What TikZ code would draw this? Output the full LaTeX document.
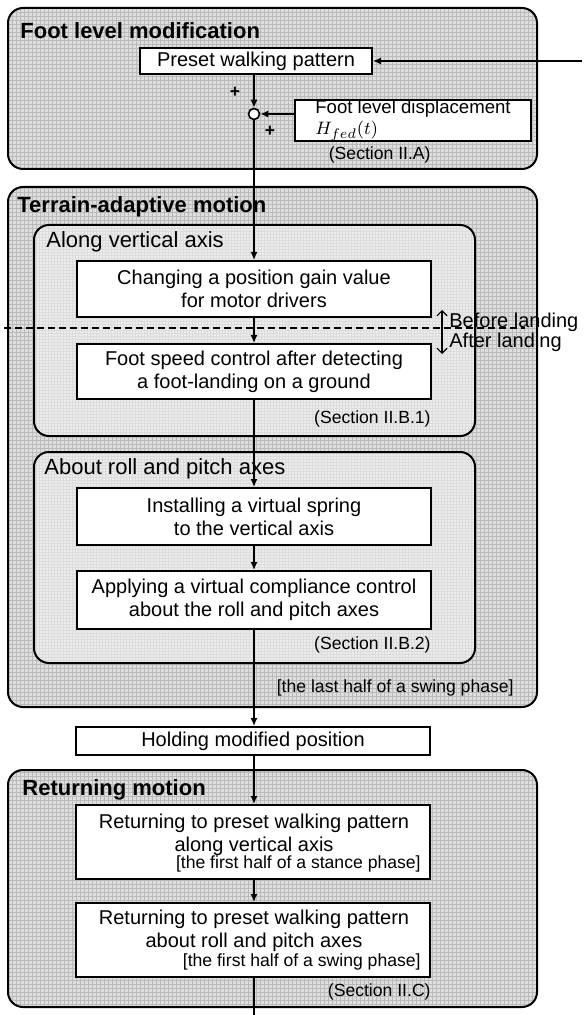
\documentclass[tikz,border=0pt]{standalone}
\usepackage{fontspec}
\setmainfont{Liberation Sans}
\usetikzlibrary{arrows.meta}

\definecolor{outerfill}{RGB}{222,222,222}
\definecolor{outergrid}{RGB}{186,186,186}
\definecolor{innerfill}{RGB}{236,236,236}
\definecolor{innergrid}{RGB}{220,220,220}

\newcommand\mainsz{\fontsize{10}{11.5}\selectfont}
\newcommand\notesz{\fontsize{8.8}{10}\selectfont}

% rounded panel with a grid texture: corner, corner, fill, grid colour, grid step
\newcommand\gridpanel[5]{%
  \begin{scope}
    \clip[rounded corners=7.5pt] #1 rectangle #2;
    \fill[#3] #1 rectangle #2;
    \draw[#4, line width=0.2pt, step=#5] #1 grid #2;
  \end{scope}
  \draw[panel] #1 rectangle #2;}

\tikzset{
  panel/.style={line width=1pt, rounded corners=7.5pt},
  blk/.style={draw, fill=white, line width=1pt, align=center, inner sep=0pt},
  flow/.style={line width=1.2pt, -{Latex[length=4pt,width=3.6pt]}},
  ttl/.style={font=\bfseries\fontsize{11}{13}\selectfont, anchor=west, inner sep=0pt},
  subttl/.style={font=\fontsize{11}{13}\selectfont, anchor=west, inner sep=0pt},
  note/.style={font=\notesz, inner sep=0pt},
}

\begin{document}
\begin{tikzpicture}[x=0.5pt, y=-0.5pt, font=\mainsz]
    \useasboundingbox (0,0) rectangle (584,1015);

    % Panels
    \gridpanel{(8,8)}{(537,169)}{outerfill}{outergrid}{2pt}
    \gridpanel{(8,187)}{(537,707)}{outerfill}{outergrid}{2pt}
    \gridpanel{(34,225)}{(475,436)}{innerfill}{innergrid}{1.5pt}
    \gridpanel{(34,452)}{(475,663)}{innerfill}{innergrid}{1.5pt}
    \gridpanel{(8,770)}{(537,1007)}{outerfill}{outergrid}{2pt}

    % Panel titles
    \node[ttl] (tfoot) at (20,31) {Foot level modification};
    \node[ttl] (tterr) at (17,207) {Terrain-adaptive motion};
    \node[subttl] (tvert) at (46,242) {Along vertical axis};
    \node[subttl] (troll) at (44,469) {About roll and pitch axes};
    \node[ttl] (tret) at (22,790) {Returning motion};

    % Foot level modification
    \node[blk, minimum width=116pt, minimum height=13pt] (preset) at (256,61) {Preset walking pattern};
    \node[circle, draw, fill=white, line width=0.8pt, minimum size=5.5pt, inner sep=0pt] (sum) at (254,114) {};
    \node[blk, anchor=west, minimum width=118pt, minimum height=20.5pt, inner xsep=6.5pt, align=left,
          font=\fontsize{9.3}{10.5}\selectfont] (fld) at (294,120.5) {Foot level displacement\\$H_{fed}(t)$};
    \node[note, font=\bfseries\notesz] (plusa) at (235,92) {+};
    \node[note, font=\bfseries\notesz] (plusb) at (270,131) {+};
    \node[note, anchor=east] (secA) at (431,155) {(Section II.A)};
    \coordinate (feed) at (582,61);

    % Along vertical axis
    \node[blk, minimum width=177pt, minimum height=28pt] (gain) at (254,289) {Changing a position gain value\\for motor drivers};
    \node[blk, minimum width=177pt, minimum height=27.5pt] (speed) at (254,371.5) {Foot speed control after detecting\\a foot-landing on a ground};
    \node[note, anchor=east] (secB1) at (431,419) {(Section II.B.1)};

    % Before / after landing
    \coordinate (dl) at (4,328);
    \coordinate (dr) at (525,328);
    \draw[line width=0.6pt, dash pattern=on 3.5pt off 2pt] (dl) -- (dr);
    \coordinate (up) at (442,310);
    \coordinate (dn) at (442,354);
    \draw[line width=0.6pt, {Straight Barb[length=2.5pt]}-{Straight Barb[length=2.5pt]}] (up) -- (dn);
    \node[anchor=west, inner sep=0pt] (before) at (449,322) {Before landing};
    \node[anchor=west, inner sep=0pt] (after) at (449,342) {After landing};

    % About roll and pitch axes
    \node[blk, minimum width=177pt, minimum height=28.5pt] (spring) at (254,516.5) {Installing a virtual spring\\to the vertical axis};
    \node[blk, minimum width=177pt, minimum height=29pt] (compl) at (254,600) {Applying a virtual compliance control\\about the roll and pitch axes};
    \node[note, anchor=east] (secB2) at (431,645) {(Section II.B.2)};
    \node[note, anchor=east] (lasthalf) at (514,688) {[the last half of a swing phase]};

    % Holding
    \node[blk, minimum width=177pt, minimum height=14pt] (hold) at (253,741) {Holding modified position};

    % Returning motion
    \node[blk, minimum width=177pt, minimum height=37pt] (ret1) at (253,842) {};
    \node[inner sep=0pt, align=center] (ret1txt) at (254,834.5) {Returning to preset walking pattern\\along vertical axis};
    \node[note, anchor=east] (ret1note) at (421,864) {[the first half of a stance phase]};
    \node[blk, minimum width=177pt, minimum height=37pt] (ret2) at (253,940) {};
    \node[inner sep=0pt, align=center] (ret2txt) at (254,930.5) {Returning to preset walking pattern\\about roll and pitch axes};
    \node[note, anchor=east] (ret2note) at (421,962) {[the first half of a swing phase]};
    \node[note, anchor=east] (secC) at (431,992) {(Section II.C)};
    \coordinate (tail) at (254,1015);

    % Connectors
    \draw[flow] (feed) -- (preset.east);
    \draw[flow] (sum |- preset.south) -- (sum.north);
    \draw[flow] (fld.west |- sum) -- (sum.east);
    \draw[flow] (sum.south) -- (gain.north);
    \draw[flow] (gain.south) -- (speed.north);
    \draw[flow] (speed.south) -- (spring.north);
    \draw[flow] (spring.south) -- (compl.north);
    \draw[flow] (compl.south) -- (hold.north -| compl.south);
    \draw[flow] (hold.south -| compl.south) -- (ret1.north -| compl.south);
    \draw[flow] (ret1.south -| compl.south) -- (ret2.north -| compl.south);
    \draw[line width=1.2pt] (ret2.south -| compl.south) -- (tail);
\end{tikzpicture}
\end{document}
